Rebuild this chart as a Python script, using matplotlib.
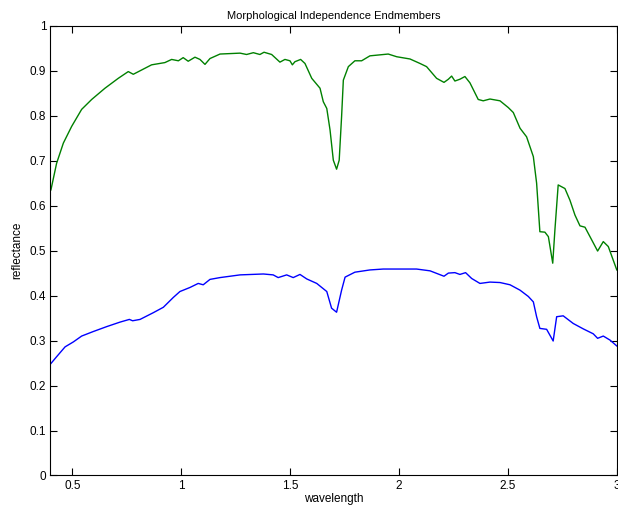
import matplotlib
matplotlib.use("Agg")
import matplotlib.pyplot as plt
from matplotlib import font_manager

# ---------------- data ----------------
green_x = [0.402, 0.428, 0.459, 0.497, 0.543, 0.589, 0.650, 0.711, 0.757, 0.780, 0.864, 0.925,
           0.956, 0.987, 1.009, 1.032, 1.063, 1.086, 1.109, 1.132, 1.178, 1.270, 1.300, 1.331,
           1.361, 1.380, 1.415, 1.453, 1.476, 1.499, 1.510, 1.522, 1.548, 1.568, 1.599, 1.637,
           1.652, 1.668, 1.683, 1.698, 1.713, 1.725, 1.736, 1.744, 1.767, 1.797, 1.828, 1.866,
           1.950, 1.989, 2.050, 2.096, 2.126, 2.172, 2.206, 2.226, 2.241, 2.256, 2.279, 2.302,
           2.325, 2.363, 2.386, 2.417, 2.463, 2.501, 2.524, 2.555, 2.585, 2.616, 2.631, 2.646,
           2.669, 2.685, 2.705, 2.715, 2.730, 2.761, 2.784, 2.807, 2.830, 2.853, 2.876, 2.911,
           2.937, 2.960, 2.999]
green_y = [0.635, 0.694, 0.739, 0.776, 0.814, 0.836, 0.861, 0.883, 0.898, 0.892, 0.913, 0.918,
           0.925, 0.922, 0.929, 0.921, 0.930, 0.925, 0.914, 0.927, 0.937, 0.939, 0.936, 0.940,
           0.936, 0.941, 0.936, 0.919, 0.925, 0.922, 0.913, 0.920, 0.925, 0.916, 0.883, 0.861,
           0.831, 0.816, 0.768, 0.701, 0.681, 0.701, 0.798, 0.879, 0.909, 0.922, 0.922, 0.933,
           0.937, 0.931, 0.926, 0.916, 0.909, 0.883, 0.874, 0.881, 0.888, 0.877, 0.881, 0.887,
           0.873, 0.836, 0.833, 0.837, 0.833, 0.818, 0.807, 0.772, 0.753, 0.709, 0.650, 0.542,
           0.541, 0.531, 0.472, 0.546, 0.646, 0.638, 0.612, 0.579, 0.555, 0.552, 0.531, 0.499,
           0.520, 0.509, 0.457]

blue_x = [0.402, 0.428, 0.467, 0.505, 0.543, 0.596, 0.658, 0.719, 0.762, 0.777, 0.811, 0.872,
          0.918, 0.964, 0.994, 1.040, 1.078, 1.101, 1.132, 1.178, 1.270, 1.377, 1.422, 1.445,
          1.484, 1.514, 1.545, 1.576, 1.622, 1.668, 1.690, 1.713, 1.736, 1.752, 1.797, 1.866,
          1.927, 2.080, 2.142, 2.206, 2.226, 2.256, 2.279, 2.305, 2.333, 2.371, 2.417, 2.463,
          2.509, 2.555, 2.593, 2.616, 2.631, 2.646, 2.677, 2.707, 2.723, 2.753, 2.799, 2.845,
          2.891, 2.911, 2.937, 2.968, 2.999]
blue_y = [0.249, 0.264, 0.286, 0.297, 0.310, 0.320, 0.331, 0.341, 0.347, 0.344, 0.347, 0.362,
          0.374, 0.396, 0.409, 0.418, 0.427, 0.424, 0.436, 0.440, 0.446, 0.448, 0.446, 0.440,
          0.446, 0.440, 0.447, 0.437, 0.427, 0.409, 0.372, 0.363, 0.412, 0.441, 0.452, 0.457,
          0.459, 0.459, 0.455, 0.443, 0.450, 0.451, 0.447, 0.451, 0.438, 0.427, 0.430, 0.429,
          0.424, 0.412, 0.398, 0.386, 0.353, 0.327, 0.325, 0.299, 0.353, 0.355, 0.338, 0.326,
          0.315, 0.305, 0.310, 0.301, 0.288]

x_ticks = [0.5, 1.0, 1.5, 2.0, 2.5, 3.0]
x_tick_labels = ["0.5", "1", "1.5", "2", "2.5", "3"]
y_ticks = [0.0, 0.1, 0.2, 0.3, 0.4, 0.5, 0.6, 0.7, 0.8, 0.9, 1.0]
y_tick_labels = ["0", "0.1", "0.2", "0.3", "0.4", "0.5", "0.6", "0.7", "0.8", "0.9", "1"]

# ---------------- style ----------------
names = {f.name for f in font_manager.fontManager.ttflist}
fam = "Liberation Sans Narrow" if "Liberation Sans Narrow" in names else "Liberation Sans"
plt.rcParams["font.family"] = [fam, "DejaVu Sans"]
plt.rcParams["font.size"] = 8.5

fig = plt.figure(figsize=(6.18, 5.12), dpi=100)
ax = fig.add_axes([0.0817, 0.0713, 0.9167, 0.8785])

ax.plot(blue_x, blue_y, color="#0000ff", lw=1.0)
ax.plot(green_x, green_y, color="#008000", lw=1.0)

ax.set_xlim(0.4, 3.0)
ax.set_ylim(0, 1)
ax.set_xticks(x_ticks)
ax.set_xticklabels(x_tick_labels)
ax.set_yticks(y_ticks)
ax.set_yticklabels(y_tick_labels)
ax.tick_params(direction="in", top=True, right=True, length=5, width=0.8, pad=3)
for s in ax.spines.values():
    s.set_linewidth(0.8)

ax.set_title("Morphological Independence Endmembers", fontsize=8, pad=5)
ax.set_xlabel("wavelength", labelpad=1)
ax.set_ylabel("reflectance", labelpad=5)

fig.savefig("out.png", dpi=100)
